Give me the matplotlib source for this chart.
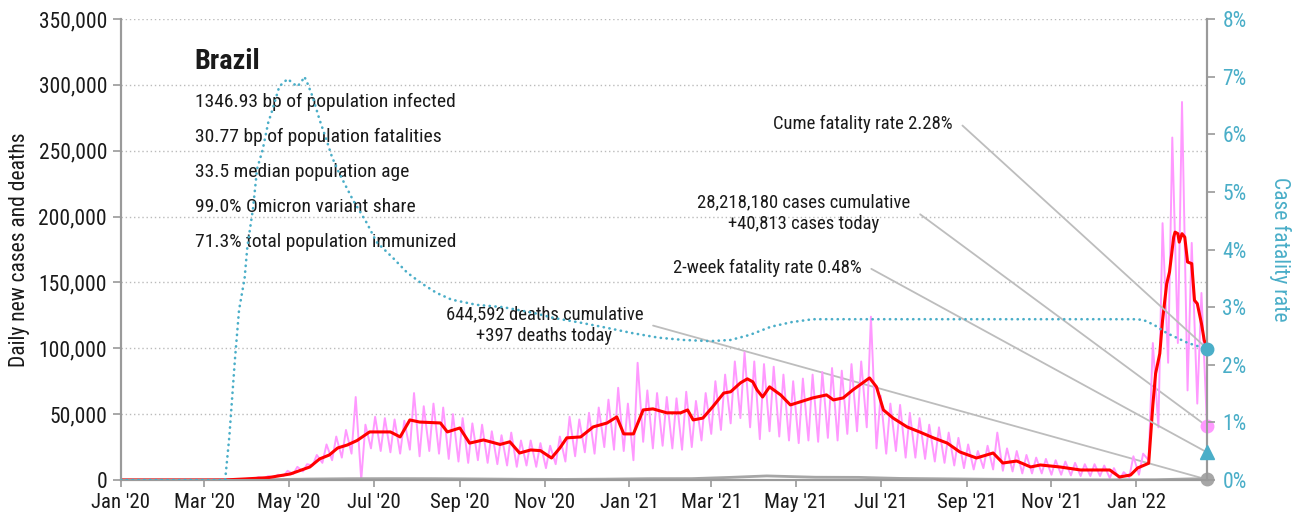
import pandas as pd
import matplotlib
matplotlib.use("Agg")
import matplotlib.pyplot as plt
import matplotlib.dates as mdates
from matplotlib import font_manager
from matplotlib.ticker import FuncFormatter, MultipleLocator

# narrow face if one is around, otherwise condensed DejaVu
installed = {f.name for f in font_manager.fontManager.ttflist}
narrow = [n for n in ['Roboto Condensed', 'Liberation Sans Narrow', 'Noto Sans Condensed',
                      'Open Sans Condensed', 'DejaVu Sans Condensed'] if n in installed]
plt.rcParams['font.family'] = narrow + ['DejaVu Sans']
plt.rcParams['font.stretch'] = 'condensed'
FS = 14 if narrow and narrow[0] != 'DejaVu Sans Condensed' else 12.5

# === daily cases: weekly low (Monday) and high (Thursday), weeks start 2020-03-01 ===
week_start = pd.date_range('2020-03-01', periods=103, freq='7D')
cases_hi = [1, 40, 250, 500, 1200, 2200, 3000, 4000, 7000, 10000, 12000, 19000,
            27000, 33000, 38000, 63000, 42000, 48000, 47000, 46000, 45000, 66000,
            56000, 58000, 55000, 50000, 47000, 43000, 42000, 37000, 34000, 36000,
            30000, 30000, 28000, 26000, 33000, 48000, 46000, 51000, 55000, 61000,
            70000, 58000, 89000, 68000, 66000, 63000, 62000, 67000, 60000, 66000,
            75000, 80000, 90000, 97000, 90000, 88000, 86000, 80000, 75000, 77000,
            80000, 82000, 85000, 83000, 88000, 90000, 124000, 64000, 58000, 57000,
            51000, 47000, 42000, 40000, 36000, 32000, 27000, 22000, 26000, 36000,
            24000, 22000, 19000, 17000, 16000, 15000, 14000, 13000, 12000, 12000,
            11000, 9000, 6000, 18000, 20000, 104000, 195000, 260000, 287000,
            180000, 142000]
cases_lo = [0, 5, 60, 250, 600, 900, 1200, 1800, 3000, 4500, 6500, 11000,
            13000, 15000, 17000, 20000, 0, 24000, 22000, 21000, 20000, 23000,
            18000, 22000, 20000, 16000, 14000, 13000, 15000, 13000, 12000, 11000,
            10000, 11000, 10000, 9000, 12000, 14000, 18000, 21000, 20000, 25000,
            23000, 22000, 15000, 29000, 24000, 26000, 24000, 23000, 25000, 30000,
            35000, 38000, 43000, 47000, 40000, 31000, 37000, 33000, 30000, 28000,
            30000, 29000, 32000, 30000, 35000, 37000, 40000, 24000, 20000, 22000,
            17000, 17000, 16000, 14000, 13000, 11000, 9000, 8000, 9000, 8000,
            7000, 6500, 5000, 5000, 5000, 4000, 4000, 3500, 3000, 3000,
            3000, 1500, 0, 2000, 4000, 15000, 40000, 89000, 104000,
            68000, 58000]

# === 7-day average of cases ===
avg_dates = ['2020-01-01', '2020-03-01', '2020-03-16', '2020-04-01', '2020-04-16',
             '2020-05-02', '2020-05-16', '2020-05-23', '2020-05-30', '2020-06-05',
             '2020-06-12', '2020-06-19', '2020-06-28', '2020-07-13', '2020-07-20',
             '2020-07-27', '2020-08-03', '2020-08-18', '2020-08-23', '2020-09-01',
             '2020-09-08', '2020-09-18', '2020-09-30', '2020-10-07', '2020-10-14',
             '2020-10-22', '2020-10-29', '2020-11-06', '2020-11-12', '2020-11-17',
             '2020-11-27', '2020-12-06', '2020-12-16', '2020-12-23', '2020-12-28',
             '2021-01-04', '2021-01-11', '2021-01-18', '2021-01-28', '2021-02-07',
             '2021-02-12', '2021-02-16', '2021-02-23', '2021-03-02', '2021-03-10',
             '2021-03-15', '2021-03-22', '2021-03-27', '2021-03-31', '2021-04-03',
             '2021-04-07', '2021-04-12', '2021-04-20', '2021-04-27', '2021-05-04',
             '2021-05-13', '2021-05-23', '2021-05-28', '2021-06-04', '2021-06-11',
             '2021-06-18', '2021-06-23', '2021-06-28', '2021-07-03', '2021-07-10',
             '2021-07-20', '2021-07-29', '2021-08-08', '2021-08-18', '2021-08-27',
             '2021-09-08', '2021-09-20', '2021-09-27', '2021-10-07', '2021-10-17',
             '2021-10-24', '2021-11-07', '2021-11-22', '2021-12-04', '2021-12-13',
             '2021-12-20', '2021-12-28', '2022-01-02', '2022-01-10', '2022-01-13',
             '2022-01-15', '2022-01-18', '2022-01-20', '2022-01-23', '2022-01-25',
             '2022-01-28', '2022-01-29', '2022-01-31', '2022-02-01', '2022-02-03',
             '2022-02-05', '2022-02-07', '2022-02-10', '2022-02-12', '2022-02-14',
             '2022-02-17', '2022-02-19', '2022-02-21']
avg_values = [0, 0, 50, 900, 1800, 4600, 9900, 16000, 19000, 24300,
              26600, 30000, 36500, 36500, 32700, 45600, 44000, 43300, 36500, 39500,
              28000, 30400, 27000, 29000, 20500, 22800, 22300, 16700, 24300, 32000,
              32700, 40300, 43300, 47900, 35000, 35000, 53200, 54000, 51000, 51000,
              53200, 45600, 47000, 55500, 66000, 67000, 73700, 76800, 74500, 68400,
              63000, 70700, 64600, 57000, 59300, 62300, 64600, 60800, 62300, 68400,
              73700, 77500, 70700, 53200, 47000, 40300, 36500, 32000, 28000, 21300,
              16700, 20500, 12900, 14400, 9900, 11400, 9900, 7600, 7600, 7600,
              2300, 3800, 9100, 12700, 56900, 80900, 96000, 121300, 149100, 157900,
              184400, 188200, 187000, 180600, 187000, 184400, 165500, 164300, 136400,
              133900, 118800, 106100, 100500]

# === 7-day average of deaths ===
death_dates = ['2020-01-01', '2020-03-15', '2020-04-15', '2020-05-15', '2020-06-15',
               '2020-07-15', '2020-08-15', '2020-09-15', '2020-10-15', '2020-11-15',
               '2020-12-15', '2021-01-15', '2021-02-15', '2021-03-15', '2021-04-10',
               '2021-05-15', '2021-06-15', '2021-07-15', '2021-08-15', '2021-09-15',
               '2021-10-15', '2021-11-15', '2021-12-15', '2022-01-15', '2022-02-10',
               '2022-02-21']
death_values = [0, 0, 200, 750, 1000, 1050, 1000, 800, 550, 450, 650, 1000, 1050,
                2000, 3100, 2100, 2000, 1200, 900, 600, 400, 250, 110, 200, 850, 700]

# === case fatality rate [%] ===
cfr_dates = ['2020-01-01', '2020-03-16', '2020-03-19', '2020-03-23', '2020-03-26',
             '2020-03-30', '2020-04-01', '2020-04-05', '2020-04-08', '2020-04-12',
             '2020-04-16', '2020-04-19', '2020-04-24', '2020-04-30', '2020-05-04',
             '2020-05-07', '2020-05-10', '2020-05-12', '2020-05-14', '2020-05-18',
             '2020-05-23', '2020-05-28', '2020-06-01', '2020-06-06', '2020-06-16',
             '2020-06-26', '2020-07-03', '2020-07-15', '2020-07-25', '2020-08-04',
             '2020-08-15', '2020-08-26', '2020-09-13', '2020-10-02', '2020-10-24',
             '2020-11-08', '2020-11-27', '2020-12-16', '2021-01-03', '2021-01-22',
             '2021-02-09', '2021-02-28', '2021-03-15', '2021-03-29', '2021-04-13',
             '2021-04-28', '2021-05-13', '2021-12-30', '2022-01-06', '2022-01-14',
             '2022-01-23', '2022-01-30', '2022-02-07', '2022-02-16', '2022-02-21']
cfr_values = [0, 0, 0.75, 2.08, 2.95, 3.5, 4.05, 4.7, 5.4, 5.73, 6.2, 6.42, 6.83,
              6.96, 6.88, 6.83, 6.91, 7.0, 6.9, 6.65, 6.25, 5.9, 5.6, 5.33, 4.86,
              4.46, 4.13, 3.85, 3.6, 3.42, 3.25, 3.13, 3.04, 3.0, 2.9, 2.81, 2.73,
              2.64, 2.55, 2.47, 2.43, 2.41, 2.43, 2.52, 2.66, 2.74, 2.79, 2.79, 2.78,
              2.69, 2.55, 2.47, 2.38, 2.31, 2.28]

# latest day
last_date = '2022-02-21'
cases_today = 40813
deaths_today = 397
cases_total = 28218180
deaths_total = 644592
cume_cfr = 2.28
two_week_cfr = 0.48

country = 'Brazil'
stats = ['1346.93 bp of population infected',
         '30.77 bp of population fatalities',
         '33.5 median population age',
         '99.0% Omicron variant share',
         '71.3% total population immunized']

PINK = '#ff99ff'
RED = '#ff0000'
BLUE = '#4aaec8'
GREY = '#a6a6a6'
TEXT = '#1a1a1a'

# daily cases as a zig-zag: Monday low, Thursday high
daily_x = [pd.Timestamp('2020-01-01')]
daily_y = [0]
for start, lo, hi in zip(week_start, cases_lo, cases_hi):
    daily_x += [start + pd.Timedelta(days=1), start + pd.Timedelta(days=4)]
    daily_y += [lo, hi]
daily_x.append(pd.Timestamp(last_date))
daily_y.append(cases_today)

fig = plt.figure(figsize=(13.07, 5.2), dpi=100)
ax = fig.add_axes([121 / 1307, 40 / 520, 1086 / 1307, 461 / 520])
ax2 = ax.twinx()

ax.plot(daily_x, daily_y, color=PINK, lw=1.4, zorder=3)
ax.plot(pd.to_datetime(death_dates), death_values, color=GREY, lw=2, zorder=3)
ax.plot(pd.to_datetime(avg_dates), avg_values, color=RED, lw=2.2, zorder=4)
ax2.plot(pd.to_datetime(cfr_dates), cfr_values, color=BLUE, lw=1.9,
         linestyle=(0, (0.1, 2.1)), dash_capstyle='round', zorder=3)

end = pd.Timestamp(last_date)
end_num = mdates.date2num(end)
ax.set_xlim(pd.Timestamp('2020-01-01'), end)
ax.set_ylim(0, 350000)
ax2.set_ylim(0, 8)

# end-of-series markers
ax2.plot([end], [cume_cfr], 'o', color=BLUE, ms=9, clip_on=False, zorder=6)
ax.plot([end], [cases_today], 'o', color=PINK, ms=9, clip_on=False, zorder=6)
ax2.plot([end], [two_week_cfr], '^', color=BLUE, ms=10, clip_on=False, zorder=6)
ax.plot([end], [deaths_today], 'o', color=GREY, ms=9, clip_on=False, zorder=6)

# leader lines from the labels to the markers
line_style = dict(arrowstyle='-', color='#bdbdbd', lw=1.3, relpos=(1, 0.5),
                  shrinkA=5, shrinkB=0,
                  connectionstyle='arc,angleA=0,armA=8,angleB=0,armB=0,rad=0')
notes = [
    (ax2, f'Cume fatality rate {cume_cfr:.2f}%', cume_cfr, 0.766, 0.772),
    (ax, f'{cases_total:,} cases cumulative\n+{cases_today:,} cases today',
     cases_today, 0.727, 0.579),
    (ax2, f'2-week fatality rate {two_week_cfr:.2f}%', two_week_cfr, 0.682, 0.460),
    (ax, f'{deaths_total:,} deaths cumulative\n+{deaths_today} deaths today',
     deaths_today, 0.481, 0.336),
]
for a, label, yval, tx, ty in notes:
    a.annotate(label, xy=(end_num, yval), xycoords='data', xytext=(tx, ty),
               textcoords='axes fraction', ha='right', va='center',
               multialignment='center', fontsize=FS - 0.6, color=TEXT,
               linespacing=1.3, arrowprops=line_style, zorder=2,
               annotation_clip=False)

# country block
ax.text(0.068, 0.907, country, transform=ax.transAxes, fontsize=FS * 1.45,
        fontweight='bold', color=TEXT, va='center', ha='left')
for i, s in enumerate(stats):
    ax.text(0.068, 0.82 - i * 0.076, s, transform=ax.transAxes, fontsize=FS,
            color=TEXT, va='center', ha='left')

# axes styling
for a in (ax, ax2):
    a.spines['top'].set_visible(False)
    for side in ('left', 'right', 'bottom'):
        a.spines[side].set_color('#9a9a9a')
        a.spines[side].set_linewidth(1.5)

TICK_FS = FS + 1.5
ax.yaxis.set_major_locator(MultipleLocator(50000))
ax.yaxis.set_major_formatter(FuncFormatter(lambda v, p: f'{int(v):,}'))
ax.yaxis.grid(True, linestyle=(0, (1, 2)), color='#bbbbbb', lw=1)
ax.set_axisbelow(True)
ax.tick_params(axis='y', length=6, width=1.2, color='#9a9a9a',
               labelsize=TICK_FS, labelcolor=TEXT, pad=4)

ax.xaxis.set_major_locator(mdates.MonthLocator(bymonth=[1, 3, 5, 7, 9, 11]))
ax.xaxis.set_major_formatter(mdates.DateFormatter("%b '%y"))
ax.tick_params(axis='x', length=5, width=1.2, color='#9a9a9a',
               labelsize=TICK_FS - 0.5, labelcolor=TEXT, pad=4)

ax2.yaxis.set_major_locator(MultipleLocator(1))
ax2.yaxis.set_major_formatter(FuncFormatter(lambda v, p: f'{int(v)}%'))
ax2.tick_params(axis='y', length=6, width=1.2, color='#9a9a9a',
                labelsize=TICK_FS, labelcolor=BLUE, pad=5)

ax.set_ylabel('Daily new cases and deaths', fontsize=TICK_FS, color=TEXT, labelpad=6)
ax2.set_ylabel('Case fatality rate', fontsize=TICK_FS, color=BLUE, rotation=270,
               labelpad=32)

fig.savefig('out.png', dpi=100)
